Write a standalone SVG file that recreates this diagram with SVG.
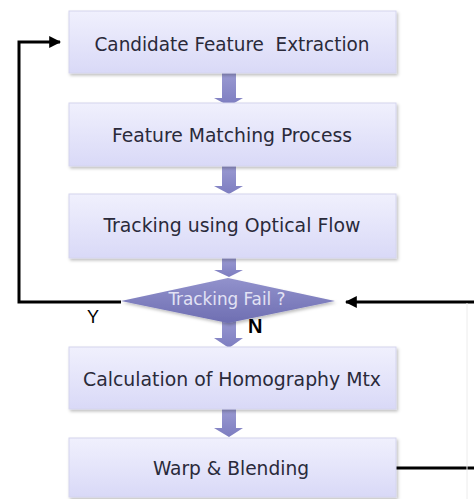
<svg xmlns="http://www.w3.org/2000/svg" width="474" height="499" viewBox="0 0 474 499">
<style>
.box{fill:url(#boxg);stroke:#d4d4ee;stroke-width:1;filter:url(#sh)}
.lbl{font-family:"DejaVu Sans Condensed","DejaVu Sans","Liberation Sans",sans-serif;font-size:20px;fill:#2a2a3a;text-anchor:middle}
.blk{fill:url(#arrg)}
.conn{fill:none;stroke:#000;stroke-width:3}
.yn{font-family:"Liberation Sans",Arial,sans-serif;fill:#000}
</style>
<defs>
<linearGradient id="boxg" x1="0" y1="0" x2="0" y2="1">
<stop offset="0" stop-color="#f0f0fd"/>
<stop offset="1" stop-color="#d9d9f7"/>
</linearGradient>
<linearGradient id="arrg" x1="0" y1="0" x2="0" y2="1">
<stop offset="0" stop-color="#9a9ad2"/>
<stop offset="1" stop-color="#7d7dc0"/>
</linearGradient>
<linearGradient id="diag" x1="0" y1="0" x2="0" y2="1">
<stop offset="0" stop-color="#9292cc"/>
<stop offset="1" stop-color="#6e6eb2"/>
</linearGradient>
<filter id="sh" x="-5%" y="-10%" width="112%" height="130%">
<feDropShadow dx="1.5" dy="2" stdDeviation="1.5" flood-color="#000" flood-opacity="0.25"/>
</filter>
<marker id="ah" viewBox="0 0 10 10" refX="9" refY="5" markerWidth="4" markerHeight="4" orient="auto" markerUnits="strokeWidth">
<path d="M0,0 L10,5 L0,10 z" fill="#000"/>
</marker>
</defs>

<g id="connectors">
<path class="conn" d="M121,302 H19 V42 H60" marker-end="url(#ah)"/>
<path class="conn" d="M474,302 H346" marker-end="url(#ah)"/>
<path class="conn" d="M396,468 H474"/>
<line x1="467" y1="303" x2="467" y2="499" stroke="#ececec" stroke-width="1"/>
<path class="blk" d="M222,73 H236 V98 H243 L229,106 L214,98 H222 Z"/>
<path class="blk" d="M222,166 H236 V186 H243 L229,194 L214,186 H222 Z"/>
<path class="blk" d="M222,258 H236 V270 H243 L229,277 L214,270 H222 Z"/>
<path class="blk" d="M222,318 H236 V338 H243 L229,348 L214,338 H222 Z"/>
<path class="blk" d="M222,409 H236 V428 H243 L229,437 L214,428 H222 Z"/>
<text class="yn" x="87" y="323" font-size="18">Y</text>
<text class="yn" x="248" y="333" font-size="20" font-weight="bold">N</text>
</g>

<g id="n1">
<rect class="box" x="69" y="11" width="327" height="62"/>
<text class="lbl" x="232" y="51" textLength="275" lengthAdjust="spacingAndGlyphs" xml:space="preserve">Candidate Feature  Extraction</text>
</g>
<g id="n2">
<rect class="box" x="69" y="103" width="327" height="63"/>
<text class="lbl" x="232" y="142" textLength="240" lengthAdjust="spacingAndGlyphs">Feature Matching Process</text>
</g>
<g id="n3">
<rect class="box" x="69" y="194" width="327" height="64"/>
<text class="lbl" x="232" y="232" textLength="257" lengthAdjust="spacingAndGlyphs">Tracking using Optical Flow</text>
</g>
<g id="d1">
<path d="M121,301 L228,278 L335,301 L228,323 Z" fill="url(#diag)" filter="url(#sh)"/>
<text x="227" y="305" font-family="'DejaVu Sans Condensed','DejaVu Sans',sans-serif" font-size="17" fill="#e2e2f4" text-anchor="middle" textLength="117" lengthAdjust="spacingAndGlyphs">Tracking Fail ?</text>
</g>
<g id="n4">
<rect class="box" x="69" y="347" width="327" height="62"/>
<text class="lbl" x="232" y="386" textLength="298" lengthAdjust="spacingAndGlyphs">Calculation of Homography Mtx</text>
</g>
<g id="n5">
<rect class="box" x="69" y="438" width="327" height="59"/>
<text class="lbl" x="231" y="475" textLength="156" lengthAdjust="spacingAndGlyphs">Warp &amp; Blending</text>
</g>
</svg>
